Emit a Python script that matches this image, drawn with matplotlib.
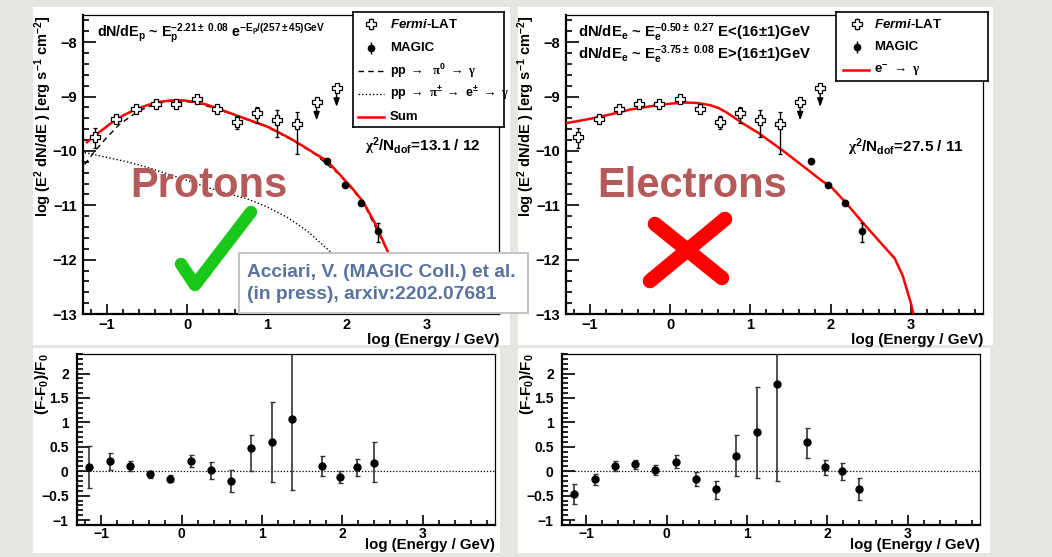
import matplotlib
matplotlib.use('Agg')
import matplotlib.pyplot as plt
from matplotlib.ticker import MultipleLocator, FuncFormatter
from matplotlib.patches import Rectangle
from matplotlib.lines import Line2D

# --- fonts (ROOT look: bold Helvetica) ---
plt.rcParams['font.family'] = ['Liberation Sans', 'DejaVu Sans']
plt.rcParams['font.weight'] = 'bold'
plt.rcParams['mathtext.fontset'] = 'custom'
plt.rcParams['mathtext.rm'] = 'Liberation Sans:bold'
plt.rcParams['mathtext.bf'] = 'Liberation Sans:bold'
plt.rcParams['mathtext.it'] = 'Liberation Sans:bold:italic'
plt.rcParams['mathtext.sf'] = 'Liberation Serif'
plt.rcParams['mathtext.default'] = 'rm'

# --- data: Fermi-LAT spectral points (log E [GeV], log E^2 dN/dE) ---
fermi_x = [-1.15, -0.89, -0.64, -0.39, -0.14, 0.12, 0.37, 0.62, 0.87, 1.12, 1.37]
fermi_y = [-9.75, -9.42, -9.22, -9.14, -9.13, -9.05, -9.22, -9.47, -9.31, -9.44, -9.51]
fermi_lo = [0.20, 0.05, 0.04, 0.04, 0.04, 0.04, 0.05, 0.12, 0.17, 0.31, 0.54]
fermi_hi = [0.17, 0.05, 0.04, 0.04, 0.04, 0.04, 0.05, 0.12, 0.12, 0.19, 0.22]
ul_x = [1.62, 1.87]
ul_y = [-9.10, -8.85]

# MAGIC points
magic_x = [1.75, 1.97, 2.18, 2.39]
magic_y = [-10.19, -10.63, -10.95, -11.48]
magic_lo = [0.05, 0.04, 0.04, 0.20]
magic_hi = [0.05, 0.04, 0.04, 0.15]

# proton model curves
p_sum_x = [-1.25, -1.1, -0.95, -0.8, -0.65, -0.5, -0.35, -0.2, -0.05, 0.1, 0.25, 0.4, 0.55, 0.7,
           0.85, 1.0, 1.15, 1.3, 1.45, 1.6, 1.75, 1.9, 2.05, 2.2, 2.35, 2.5, 2.6, 2.7, 2.8, 2.88]
p_sum_y = [-9.84, -9.66, -9.49, -9.35, -9.24, -9.16, -9.10, -9.07, -9.07, -9.10, -9.15, -9.23, -9.31, -9.39,
           -9.47, -9.55, -9.66, -9.78, -9.91, -10.05, -10.18, -10.42, -10.66, -10.93, -11.33, -11.82, -12.18,
           -12.50, -12.82, -13.10]
p_pi0_x = [-1.28, -1.15, -1.0, -0.85, -0.7, -0.55, -0.4, -0.25, -0.1, 0.1, 0.4, 0.7, 1.0, 1.3, 1.6, 1.9,
           2.2, 2.5, 2.8, 2.88]
p_pi0_y = [-10.25, -10.0, -9.75, -9.52, -9.36, -9.23, -9.14, -9.09, -9.08, -9.11, -9.24, -9.40, -9.56,
           -9.79, -10.06, -10.43, -10.94, -11.83, -12.83, -13.10]
p_pic_x = [-1.28, -1.0, -0.75, -0.5, -0.25, 0.0, 0.25, 0.5, 0.75, 1.0, 1.25, 1.5, 1.75, 1.9, 2.1, 2.3]
p_pic_y = [-10.03, -10.12, -10.20, -10.30, -10.42, -10.54, -10.67, -10.78, -10.88, -11.03, -11.22,
           -11.47, -11.80, -12.00, -12.35, -12.75]

# electron model curve
e_sum_x = [-1.3, -1.0, -0.75, -0.5, -0.25, 0.0, 0.2, 0.35, 0.5, 0.6, 0.7, 0.9, 1.1, 1.4, 1.7, 1.9, 2.0,
           2.2, 2.4, 2.6, 2.8, 2.9, 3.0, 3.05]
e_sum_y = [-9.49, -9.41, -9.33, -9.24, -9.18, -9.13, -9.11, -9.12, -9.16, -9.21, -9.29, -9.49, -9.67,
           -9.99, -10.33, -10.56, -10.65, -10.97, -11.32, -11.65, -11.98, -12.30, -12.80, -13.10]

# residuals (F-F0)/F0 : value, upper end, lower end of error bar
res_x = [-1.15, -0.89, -0.64, -0.39, -0.14, 0.12, 0.37, 0.62, 0.87, 1.12, 1.37, 1.75, 1.97, 2.18, 2.39]
res_p = [0.09, 0.21, 0.11, -0.06, -0.15, 0.21, 0.03, -0.20, 0.48, 0.60, 1.06, 0.11, -0.12, 0.08, 0.17]
res_p_hi = [0.52, 0.38, 0.21, 0.0, -0.07, 0.33, 0.19, 0.03, 0.75, 1.41, 2.60, 0.32, 0.0, 0.26, 0.59]
res_p_lo = [-0.34, 0.02, 0.0, -0.14, -0.23, 0.08, -0.15, -0.43, 0.0, -0.22, -0.39, -0.10, -0.24, -0.10, -0.23]
res_e = [-0.47, -0.16, 0.11, 0.14, 0.02, 0.19, -0.16, -0.37, 0.32, 0.80, 1.79, 0.59, 0.09, 0.0, -0.36]
res_e_hi = [-0.27, -0.05, 0.21, 0.23, 0.12, 0.33, -0.01, -0.20, 0.74, 1.72, 2.60, 0.89, 0.24, 0.17, -0.13]
res_e_lo = [-0.68, -0.29, 0.0, 0.04, -0.08, 0.07, -0.31, -0.56, -0.10, -0.13, -0.19, 0.28, -0.07, -0.17, -0.58]

# --- layout in pixels ---
W, H = 1052, 557
fig = plt.figure(figsize=(W / 100, H / 100), dpi=100, facecolor='#e5e5e2')


def rect(x0, y0, x1, y1):
    return [x0 / W, 1 - y1 / H, (x1 - x0) / W, (y1 - y0) / H]


def pt(x, y):
    return (x / W, 1 - y / H)


def white_panel(x0, y0, x1, y1):
    fig.add_artist(Rectangle(pt(x0, y1), (x1 - x0) / W, (y1 - y0) / H, transform=fig.transFigure,
                             facecolor='white', edgecolor='none', zorder=-1))


white_panel(33, 7, 510, 345)
white_panel(518, 7, 993, 345)
white_panel(33, 348, 500, 553)
white_panel(518, 348, 990, 553)


def tick_fmt(v, pos):
    return ('%g' % v).replace('-', '\u2212')


def setup(ax, ylim, ymaj, ymin, xsize, ysize, ypad=4, xpad=3):
    ax.set_xlim(-1.3, 3.9)
    ax.set_ylim(*ylim)
    ax.xaxis.set_major_locator(MultipleLocator(1))
    ax.xaxis.set_minor_locator(MultipleLocator(0.2))
    ax.yaxis.set_major_locator(MultipleLocator(ymaj))
    ax.yaxis.set_minor_locator(MultipleLocator(ymin))
    ax.xaxis.set_major_formatter(FuncFormatter(tick_fmt))
    ax.yaxis.set_major_formatter(FuncFormatter(tick_fmt))
    ax.tick_params(which='both', direction='in', top=False, right=False, width=1.2)
    ax.tick_params(axis='x', which='major', length=7, pad=xpad, labelsize=xsize)
    ax.tick_params(axis='x', which='minor', length=3.5)
    ax.tick_params(axis='y', which='major', length=9, pad=ypad, labelsize=ysize)
    ax.tick_params(axis='y', which='minor', length=4.5)
    for s in ['left', 'bottom']:
        ax.spines[s].set_linewidth(1.6)
    for s in ['top', 'right']:
        ax.spines[s].set_linewidth(0.9)
    ax.set_facecolor('white')


def plot_points(ax):
    ax.errorbar(fermi_x, fermi_y, yerr=[fermi_lo, fermi_hi], fmt='P', ms=6.5, mfc='white', mec='k',
                mew=0.9, ecolor='k', elinewidth=1, capsize=1.5, zorder=4)
    ax.plot(ul_x, ul_y, 'P', ms=6.5, mfc='white', mec='k', mew=0.9, zorder=5)
    for x, y in zip(ul_x, ul_y):
        ax.annotate('', xy=(x, y - 0.34), xytext=(x, y),
                    arrowprops=dict(arrowstyle='-|>,head_length=0.5,head_width=0.18', color='k',
                                    lw=1, shrinkA=0, shrinkB=0), zorder=4)
    ax.errorbar(magic_x, magic_y, yerr=[magic_lo, magic_hi], fmt='o', ms=4.5, color='k',
                elinewidth=1, capsize=1.5, zorder=4)


# --- top left: protons ---
ax1 = fig.add_axes(rect(83, 15, 499, 314))
setup(ax1, (-13, -7.5), 1, 0.2, 10.5, 10.5)
ax1.plot(p_pic_x, p_pic_y, color='k', ls=(0, (1, 1.6)), lw=1)
ax1.plot(p_pi0_x, p_pi0_y, color='k', ls=(0, (4, 3)), lw=1)
ax1.plot(p_sum_x, p_sum_y, color='red', lw=1.8, zorder=3)
plot_points(ax1)

# --- top right: electrons ---
ax2 = fig.add_axes(rect(566, 15, 983, 314))
setup(ax2, (-13, -7.5), 1, 0.2, 10.5, 10.5)
ax2.plot(e_sum_x, e_sum_y, color='red', lw=1.8, zorder=3)
plot_points(ax2)

# --- residual panels ---
ax3 = fig.add_axes(rect(77, 354, 495, 525))
ax4 = fig.add_axes(rect(562, 354, 980, 525))
for ax, r, rhi, rlo in [(ax3, res_p, res_p_hi, res_p_lo), (ax4, res_e, res_e_hi, res_e_lo)]:
    setup(ax, (-1.1, 2.4), 0.5, 0.1, 10, 10, ypad=6, xpad=1.5)
    ax.axhline(0, color='k', lw=0.9, ls=(0, (1, 1.5)))
    err = [[v - lo for v, lo in zip(r, rlo)], [hi - v for v, hi in zip(r, rhi)]]
    ax.errorbar(res_x, r, yerr=err, fmt='o', ms=5, color='k', ecolor='#333333', elinewidth=1.2,
                capsize=1.8, zorder=4)

# --- axis titles (ROOT style, placed at ends of axes) ---
ylab = r'log (E$^{2}$ dN/dE ) [erg s$^{-1}$ cm$^{-2}$]'
fig.text(*pt(43, 15), ylab, rotation=90, ha='center', va='top', fontsize=10.5)
fig.text(*pt(526, 15), ylab, rotation=90, ha='center', va='top', fontsize=10.5)
rlab = r'(F-F$_{0}$)/F$_{0}$'
fig.text(*pt(42, 353), rlab, rotation=90, ha='center', va='top', fontsize=11)
fig.text(*pt(527, 353), rlab, rotation=90, ha='center', va='top', fontsize=11)
xlab = 'log (Energy / GeV)'
for x, y, fs in [(499, 344, 11), (983, 344, 11), (495, 549, 10.8), (980, 549, 10.8)]:
    fig.text(*pt(x, y), xlab, ha='right', va='baseline', fontsize=fs)

# --- fit formulas and chi2 ---
fig.text(*pt(97, 37), r'dN/dE$_{p}$ ~ E$_{p}^{-2.21\pm\ 0.08}$ e$^{-E_{p}/(257\pm45)GeV}$',
         va='baseline', fontsize=10.3)
fig.text(*pt(578, 37), r'dN/dE$_{e}$ ~ E$_{e}^{-0.50\pm\ 0.27}$ E<(16$\pm$1)GeV',
         va='baseline', fontsize=10.7)
fig.text(*pt(578, 59), r'dN/dE$_{e}$ ~ E$_{e}^{-3.75\pm\ 0.08}$ E>(16$\pm$1)GeV',
         va='baseline', fontsize=10.7)
fig.text(*pt(365, 151), r'$\mathsf{\chi}^{2}$/N$_{dof}$=13.1 / 12', va='baseline', fontsize=11)
fig.text(*pt(848, 152), r'$\mathsf{\chi}^{2}$/N$_{dof}$=27.5 / 11', va='baseline', fontsize=11)


# --- legends (drawn in a small pixel-unit axes) ---
def legend_box(x0, y0, x1, y1):
    lax = fig.add_axes(rect(x0, y0, x1, y1))
    lax.set_xlim(x0, x1)
    lax.set_ylim(y1, y0)
    lax.set_xticks([])
    lax.set_yticks([])
    for s in lax.spines.values():
        s.set_linewidth(1.2)
    lax.set_zorder(5)
    return lax


def legend_points(lax, xm, y1, y2, xt):
    lax.errorbar([xm], [y1], yerr=[[6], [6]], fmt='P', ms=6.5, mfc='white', mec='k', mew=0.9,
                 ecolor='k', elinewidth=1)
    lax.errorbar([xm], [y2], yerr=[[6], [6]], fmt='o', ms=4.5, color='k', elinewidth=1)
    lax.text(xt, y1, r'$\mathit{Fermi}$-LAT', va='center', fontsize=9.5)
    lax.text(xt, y2, 'MAGIC', va='center', fontsize=9.5)


lg1 = legend_box(353, 12, 504, 127)
legend_points(lg1, 371, 24, 48, 390)
lg1.plot([358, 384], [71, 71], color='k', lw=1, ls=(0, (4, 3)))
lg1.plot([358, 384], [94, 94], color='k', lw=1, ls=(0, (1, 1.6)))
lg1.plot([358, 384], [117, 117], color='red', lw=1.8)
lg1.text(390, 71, r'pp $\rightarrow$  $\mathsf{\pi}^{0}$ $\rightarrow$ $\mathsf{\gamma}$', va='center', fontsize=9)
lg1.text(390, 94, r'pp $\rightarrow$ $\mathsf{\pi}^{\pm}$ $\rightarrow$ e$^{\pm}$ $\rightarrow$ $\mathsf{\gamma}$',
         va='center', fontsize=9)
lg1.text(390, 117, 'Sum', va='center', fontsize=9.5)

lg2 = legend_box(836, 12, 988, 81)
legend_points(lg2, 857, 24, 47, 874)
lg2.plot([843, 869], [70, 70], color='red', lw=1.8)
lg2.text(874, 70, r'e$^{-}$ $\rightarrow$ $\mathsf{\gamma}$', va='center', fontsize=9.5)

# --- slide overlays ---
big = dict(fontsize=30, color='#b45a5a', va='baseline')
fig.text(*pt(130, 197), 'Protons', **big)
fig.text(*pt(597, 197), 'Electrons', **big)

# green check mark
check_x = [181 / W, 195 / W, 251 / W]
check_y = [1 - 264 / H, 1 - 285 / H, 1 - 212 / H]
fig.add_artist(Line2D(check_x, check_y, transform=fig.transFigure, color='#19c819', lw=9,
                      solid_capstyle='round', solid_joinstyle='round', zorder=6))

# red cross
for (xa, ya), (xb, yb) in [((655, 224), (722, 278)), ((725, 219), (650, 281))]:
    fig.add_artist(Line2D([xa / W, xb / W], [1 - ya / H, 1 - yb / H], transform=fig.transFigure,
                          color='#ff0000', lw=10.5, solid_capstyle='round', zorder=6))

# reference box
fig.add_artist(Rectangle(pt(239, 313), (528 - 239) / W, (313 - 253) / H, transform=fig.transFigure,
                         facecolor='white', edgecolor='#c4c4c4', lw=1.5, zorder=6))
fig.text(*pt(247, 277), 'Acciari, V. (MAGIC Coll.) et al.', va='baseline', fontsize=13.8,
         color='#5a72a0', zorder=7)
fig.text(*pt(247, 299), '(in press), arxiv:2202.07681', va='baseline', fontsize=13.8,
         color='#5a72a0', zorder=7)

fig.savefig('out.png', dpi=100, facecolor=fig.get_facecolor())
